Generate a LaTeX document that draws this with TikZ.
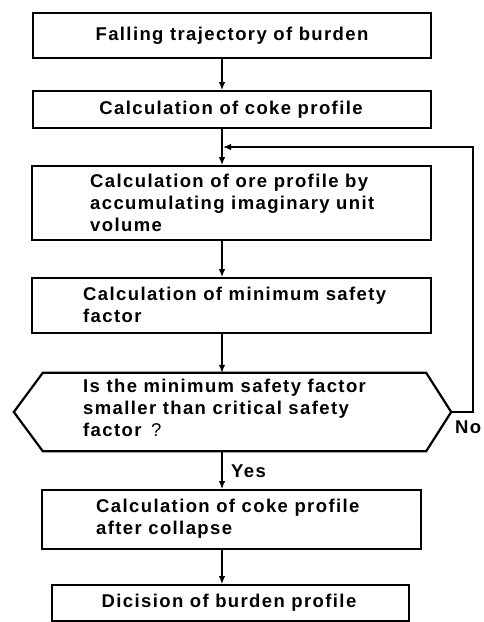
\documentclass[tikz,border=0pt]{standalone}
\usepackage{fontspec}
\setmainfont{Liberation Sans}[LetterSpace=7.5]
\usetikzlibrary{arrows.meta}
\tikzset{
  stepbox/.style={draw, line width=1.8pt, inner sep=0pt},
  hexline/.style={line width=2.2pt, line join=miter},
  txt/.style={inner sep=0pt, align=left, font=\fontsize{18.5}{21.7}\selectfont\bfseries},
  lbl/.style={inner sep=0pt, font=\fontsize{18.5}{21.7}\selectfont\bfseries},
  conn/.style={line width=1.3pt, -{Latex[length=8pt,width=6.5pt]}},
  line/.style={line width=1.3pt}
}
\begin{document}
\begin{tikzpicture}[x=1pt,y=-1pt]
\useasboundingbox (0,0) rectangle (484,622);
\fill[white] (0,0) rectangle (484,622);
% boxes
\node[stepbox, minimum width=398pt, minimum height=45pt] (b1) at (232,35.5) {};
\node[txt] (t1) at (232,35.5) {Falling trajectory of burden};
\node[stepbox, minimum width=398pt, minimum height=37pt] (b2) at (232,109.5) {};
\node[txt] (t2) at (231,110) {Calculation of coke profile};
\node[stepbox, minimum width=399pt, minimum height=74pt] (b3) at (231.5,203) {};
\node[txt, anchor=west] (t3) at (90,203) {Calculation of ore profile by\\accumulating imaginary unit\\volume};
\node[stepbox, minimum width=399pt, minimum height=55pt] (b4) at (231.5,305.5) {};
\node[txt, anchor=west] (t4) at (83,305) {Calculation of minimum safety\\factor};
% decision
\node[inner sep=0pt, minimum width=437pt, minimum height=78pt] (dec) at (232.5,412) {};
\draw[hexline] (dec.west) -- ([xshift=29pt]dec.north west) -- ([xshift=-25pt]dec.north east)
  -- (dec.east) -- ([xshift=-25pt]dec.south east) -- ([xshift=29pt]dec.south west) -- cycle;
\node[txt, anchor=west] (t5) at (83,408) {Is the minimum safety factor\\smaller than critical safety\\factor\hspace{3pt} {\mdseries ?}};
\node[stepbox, minimum width=379pt, minimum height=59pt] (b6) at (231.5,519.5) {};
\node[txt, anchor=west] (t6) at (96,519) {Calculation of coke profile\\after collapse};
\node[stepbox, minimum width=357pt, minimum height=36pt] (b7) at (230.5,603) {};
\node[txt] (t7) at (229,603) {Dicision of burden profile};
% connectors
\coordinate (ax) at (222,0);
\coordinate (fb) at (473,147);
\draw[conn] (b1.south -| ax) -- (b2.north -| ax);
\draw[conn] (b2.south -| ax) -- (b3.north -| ax);
\draw[conn] (b3.south -| ax) -- (b4.north -| ax);
\draw[conn] (b4.south -| ax) -- (dec.north -| ax);
\draw[conn] (dec.south -| ax) -- (b6.north -| ax);
\draw[conn] (b6.south -| ax) -- (b7.north -| ax);
\draw[conn] (dec.east) -- (dec.east -| fb) -- (fb) -- ([xshift=1pt]fb -| ax);
% labels
\node[lbl, anchor=west] (yes) at (231,471) {Yes};
\node[lbl, anchor=west] (no) at (455,427) {No};
\end{tikzpicture}
\end{document}
